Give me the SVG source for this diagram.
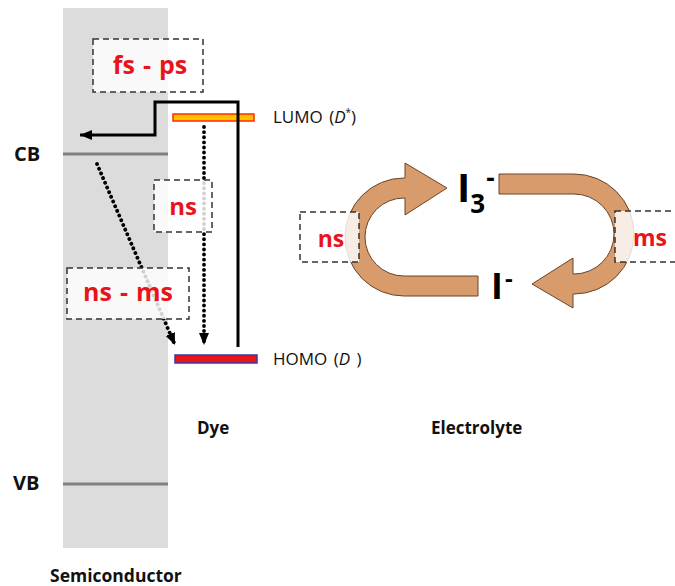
<svg xmlns="http://www.w3.org/2000/svg" width="675" height="586" viewBox="0 0 675 586">
<style>
  .lbl { font-family: "Open Sans", Lato, "Liberation Sans", sans-serif; font-weight: bold; fill: #111; }
  .lvl { font-family: "Open Sans", Lato, "Liberation Sans", sans-serif; font-size: 17px; fill: #111; word-spacing: 2px; }
  .red { font-family: "Open Sans", Lato, "Liberation Sans", sans-serif; font-weight: bold; fill: #E8141B; text-anchor: middle; word-spacing: 1.5px; }
  .box { fill: #ffffff; fill-opacity: 0.82; stroke: #333; stroke-width: 1.5; stroke-dasharray: 6 4; }
  .dot { fill: none; stroke: #000; stroke-width: 3.8; stroke-dasharray: 0.1 5; stroke-linecap: round; }
  .solid { fill: none; stroke: #000; stroke-width: 3; }
  .band { fill: #D89B6C; stroke: #6b4428; stroke-width: 1; }
  .level { stroke: #808080; stroke-width: 3; }
  .ion { font-family: "Open Sans", Lato, "Liberation Sans", sans-serif; font-weight: bold; fill: #000; }
</style>
<defs>
  <marker id="ah" viewBox="0 0 12 10" refX="12" refY="5" markerUnits="userSpaceOnUse" markerWidth="12" markerHeight="10" orient="auto">
    <path d="M0,0 L12,5 L0,10 z" fill="#000"/>
  </marker>
</defs>

<g id="semiconductor">
  <rect x="63" y="8" width="105" height="540" fill="#DCDCDC"/>
  <line class="level" x1="63" y1="154" x2="168" y2="154"/>
  <line class="level" x1="63" y1="484" x2="168" y2="484"/>
  <text class="lbl" x="14" y="161" font-size="20">CB</text>
  <text class="lbl" x="13" y="490" font-size="20">VB</text>
  <text class="lbl" x="50" y="582" font-size="17.5">Semiconductor</text>
</g>

<g id="dye">
  <rect id="lumo" x="173" y="114" width="81" height="7" fill="#FFC000" stroke="#FF2A00" stroke-width="1.5"/>
  <rect id="homo" x="175" y="355" width="82" height="8" fill="#E8141B" stroke="#3A3AA0" stroke-width="1.5"/>
  <text class="lvl" x="273" y="123">LUMO (<tspan font-style="italic">D</tspan><tspan font-size="10" dy="-7">*</tspan><tspan dy="7">)</tspan></text>
  <text class="lvl" x="273" y="365">HOMO (<tspan font-style="italic">D</tspan> )</text>
  <text class="lbl" x="197" y="434" font-size="17">Dye</text>
</g>

<g id="electrolyte">
  <path id="arrow-ox" class="band" d="M478 276 L404 276 A39 39 0 0 1 404 198 L405 198 L405 215 L447 188 L405 163 L405 178 L404 178 A59 59 0 0 0 404 296 L478 296 Z"/>
  <path id="arrow-red" class="band" d="M499 174 L574 174 A60 60 0 0 1 574 294 L573 294 L573 308 L532 284 L573 258 L573 274 L574 274 A40 40 0 0 0 574 194 L499 194 Z"/>
  <text class="ion" x="457" y="202" font-size="40">I<tspan font-size="26" dy="11">3</tspan><tspan font-size="26" dx="1" dy="-26">-</tspan></text>
  <text class="ion" x="491" y="299" font-size="36">I<tspan font-size="24" dx="2" dy="-12">-</tspan></text>
  <text class="lbl" x="431" y="434" font-size="17">Electrolyte</text>
</g>

<g id="connectors">
  <path id="inject" class="solid" d="M238 347 L238 102 L155 102 L155 135 L80 135" marker-end="url(#ah)"/>
  <line id="relax" class="dot" x1="204" y1="127" x2="204" y2="345" marker-end="url(#ah)"/>
  <line id="recomb" class="dot" x1="97" y1="164" x2="175" y2="345" marker-end="url(#ah)"/>
</g>

<g id="box-fsps">
  <rect class="box" x="93" y="39" width="110" height="53"/>
  <text class="red" x="150" y="74" font-size="25">fs - ps</text>
</g>
<g id="box-ns-dye">
  <rect class="box" x="154" y="180" width="58" height="52"/>
  <text class="red" x="183" y="215" font-size="24">ns</text>
</g>
<g id="box-nsms">
  <rect class="box" x="67" y="268" width="122" height="51"/>
  <text class="red" x="128" y="301" font-size="25">ns - ms</text>
</g>
<g id="box-ns-el">
  <rect class="box" x="300" y="212" width="59" height="50"/>
  <text class="red" x="331" y="247" font-size="23">ns</text>
</g>
<g id="box-ms-el">
  <rect class="box" x="615" y="211" width="70" height="51"/>
  <text class="red" x="650" y="246" font-size="23">ms</text>
</g>
</svg>
